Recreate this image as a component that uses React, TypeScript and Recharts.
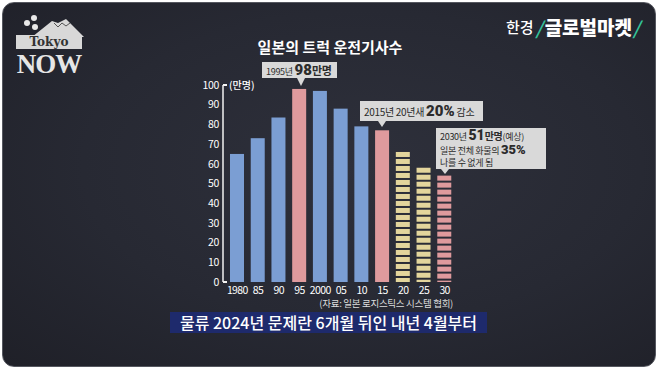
import React from 'react';
import { BarChart, Bar, XAxis, YAxis } from 'recharts';

const years = ['1980', '85', '90', '95', '2000', '05', '10', '15', '20', '25', '30'];
const drivers = [65, 73, 83.5, 98, 97, 88, 79, 77, 66, 58, 54];
const highlighted = ['95', '15', '30'];
const forecast = ['20', '25', '30'];
const yTicks = [0, 10, 20, 30, 40, 50, 60, 70, 80, 90, 100];

const chartData = years.map((year, i) => ({ year, value: drivers[i] }));

const FONT = '"Noto Sans CJK KR", "Noto Sans", sans-serif';
const NUM = 'Roboto, "Noto Sans", sans-serif';
const BLUE = '#7b9ed3';
const PINK = '#df9a9d';
const YELLOW = '#e3d59c';

const BarShape = (props: any) => {
  const { x, y, width, height, payload } = props;
  const hot = highlighted.includes(payload.year);
  if (!forecast.includes(payload.year)) {
    return <rect x={x} y={y} width={width} height={height} fill={hot ? PINK : BLUE} />;
  }
  const segs = [];
  const bottom = y + height;
  for (let top = y; top < bottom - 1; top += 7) {
    segs.push(<rect key={top} x={x} y={top} width={width} height={Math.min(5, bottom - top)} fill={hot ? PINK : YELLOW} />);
  }
  return <g>{segs}</g>;
};

const Callout = ({ left, top, width, height, tipX, tipY, children }: any) => (
  <>
    <div
      style={{
        position: 'absolute', left, top, width, height, background: '#d9d9d9', color: '#2b2b2b',
        fontFamily: FONT, display: 'flex', flexDirection: 'column', justifyContent: 'center',
        paddingLeft: 4, boxSizing: 'border-box', whiteSpace: 'nowrap', letterSpacing: -0.3
      }}
    >
      {children}
    </div>
    <div
      style={{
        position: 'absolute', left: tipX - 4, top: top + height, width: 0, height: 0,
        borderLeft: '4px solid transparent', borderRight: '4px solid transparent',
        borderTop: `${tipY - top - height}px solid #d9d9d9`
      }}
    />
  </>
);

const line = (h: number) => ({ display: 'flex', alignItems: 'baseline', height: h, lineHeight: `${h}px` });
const big = (size: number) => ({ fontSize: size, fontWeight: 900, fontFamily: NUM, letterSpacing: 0 });

export default function App() {
  return (
    <div
      style={{
        position: 'fixed', left: 0, top: 0, width: 658, height: 369, overflow: 'hidden', background: '#fff'
      }}
    >
      <div
        style={{
          position: 'absolute', left: 2, top: 2, width: 654, height: 365, borderRadius: 12,
          border: '1px solid #55575f', boxSizing: 'border-box',
          background: 'radial-gradient(ellipse at 55% 45%, #2e303b 0%, #272933 55%, #1f2028 100%)'
        }}
      />

      {/* logo */}
      <svg width={80} height={40} style={{ position: 'absolute', left: 14, top: 11 }}>
        <polygon points="18,26 38,10 44,12 52,8 70,26" fill="#d8d8d8" />
        <polyline points="40,12 44,16 48,12 52,15 56,12" stroke="#555" fill="none" strokeWidth={1} />
        <circle cx={13} cy={12} r={3} fill="#e8e8e8" />
        <circle cx={20} cy={7} r={3} fill="#e8e8e8" />
        <circle cx={21} cy={16} r={3} fill="#e8e8e8" />
      </svg>
      <div
        style={{
          position: 'absolute', left: 16, top: 35, width: 66, height: 14, background: '#d8d8d8',
          color: '#333', fontFamily: '"DejaVu Serif", serif', fontSize: 12, fontWeight: 700,
          textAlign: 'center', lineHeight: '14px'
        }}
      >
        Tokyo
      </div>
      <div
        style={{
          position: 'absolute', left: 15, top: 53, width: 68, height: 22, lineHeight: '22px', color: '#e6e6e6',
          fontFamily: '"Liberation Serif", serif', fontSize: 27, fontWeight: 700, textAlign: 'center',
          letterSpacing: -1
        }}
      >
        NOW
      </div>

      {/* brand */}
      <div
        style={{
          position: 'absolute', right: 18, top: 13, color: '#fff', fontFamily: FONT,
          display: 'flex', alignItems: 'center', whiteSpace: 'nowrap'
        }}
      >
        <span style={{ fontSize: 15, fontWeight: 500 }}>한경</span>
        <span style={{ color: '#34c29a', fontSize: 18, fontWeight: 700, margin: '0 2px', fontStyle: 'italic' }}>/</span>
        <span style={{ fontSize: 19, fontWeight: 900 }}>글로벌마켓</span>
        <span style={{ color: '#34c29a', fontSize: 18, fontWeight: 700, marginLeft: 1, fontStyle: 'italic' }}>/</span>
      </div>

      {/* title */}
      <div
        style={{
          position: 'absolute', left: 230, width: 200, top: 37, textAlign: 'center', color: '#fff',
          fontFamily: FONT, fontSize: 15, fontWeight: 700, lineHeight: '20px'
        }}
      >
        일본의 트럭 운전기사수
      </div>

      <div style={{ position: 'absolute', left: 0, top: 0 }}>
        <BarChart
          width={658}
          height={369}
          data={chartData}
          margin={{ top: 85, right: 203, bottom: 67, left: 183 }}
          barSize={14}
        >
          <XAxis
            dataKey="year"
            height={20}
            axisLine={false}
            tickLine={false}
            tickSize={0}
            tickMargin={5}
            interval={0}
            padding={{ left: 4, right: 0 }}
            tick={{ fill: '#fff', fontSize: 10.5, fontFamily: FONT, letterSpacing: -0.6 }}
          />
          <YAxis
            width={40}
            domain={[0, 100]}
            ticks={yTicks}
            interval={0}
            tickLine={false}
            tickSize={0}
            tickMargin={4}
            axisLine={{ stroke: '#f2f2f2', strokeWidth: 1.5 }}
            tick={{ fill: '#fff', fontSize: 10.5, fontFamily: FONT, letterSpacing: -0.3 }}
          />
          <Bar dataKey="value" shape={BarShape} isAnimationActive={false} />
        </BarChart>
      </div>

      {/* axis end caps and unit */}
      <div style={{ position: 'absolute', left: 223, top: 84, width: 4, height: 1.5, background: '#f2f2f2' }} />
      <div style={{ position: 'absolute', left: 223, top: 281, width: 4, height: 1.5, background: '#f2f2f2' }} />
      <div style={{ position: 'absolute', left: 229, top: 77, color: '#fff', fontFamily: FONT, fontSize: 10, fontWeight: 500 }}>
        (만명)
      </div>

      <Callout left={262} top={62} width={75} height={16} tipX={301} tipY={86}>
        <div style={line(16)}>
          <span style={{ fontSize: 9 }}>1995년&nbsp;</span>
          <span style={big(15)}>98</span>
          <span style={{ fontSize: 11, fontWeight: 600 }}>만명</span>
        </div>
      </Callout>

      <Callout left={360} top={101} width={123} height={20} tipX={382} tipY={127}>
        <div style={line(20)}>
          <span style={{ fontSize: 10 }}>2015년 20년새&nbsp;</span>
          <span style={big(15)}>20%</span>
          <span style={{ fontSize: 10 }}>&nbsp;감소</span>
        </div>
      </Callout>

      <Callout left={436} top={128} width={110} height={41} tipX={445} tipY={174}>
        <div style={line(15)}>
          <span style={{ fontSize: 9 }}>2030년&nbsp;</span>
          <span style={big(14)}>51</span>
          <span style={{ fontSize: 10, fontWeight: 600 }}>만명</span>
          <span style={{ fontSize: 9 }}>(예상)</span>
        </div>
        <div style={line(14)}>
          <span style={{ fontSize: 9 }}>일본 전체 화물의&nbsp;</span>
          <span style={big(13)}>35%</span>
        </div>
        <div style={line(12)}>
          <span style={{ fontSize: 9 }}>나를 수 없게 됨</span>
        </div>
      </Callout>

      {/* source */}
      <div
        style={{
          position: 'absolute', right: 205, top: 296, color: '#ddd', fontFamily: FONT, fontSize: 9.5,
          whiteSpace: 'nowrap', letterSpacing: -0.3
        }}
      >
        (자료: 일본 로지스틱스 시스템 협회)
      </div>

      {/* caption */}
      <div
        style={{
          position: 'absolute', left: 170, top: 312, width: 317, height: 21, background: '#1e2a6c',
          color: '#fff', fontFamily: FONT, fontSize: 16, fontWeight: 500, textAlign: 'center',
          lineHeight: '21px', whiteSpace: 'nowrap'
        }}
      >
        물류 2024년 문제란 6개월 뒤인 내년 4월부터
      </div>
    </div>
  );
}
